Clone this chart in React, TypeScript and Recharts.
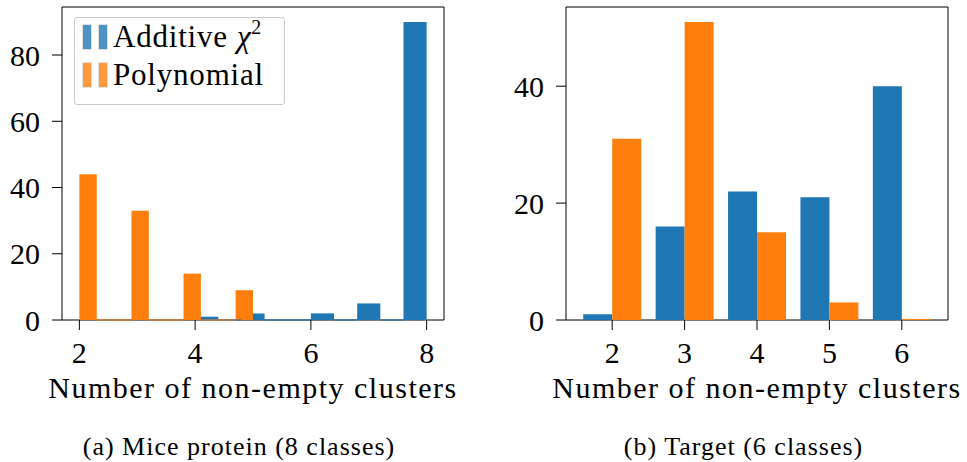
import React from 'react';
import {
  ComposedChart, BarChart, Bar, XAxis, YAxis, CartesianGrid, ReferenceArea, ReferenceLine,
} from 'recharts';

const BLUE = '#1f77b4';
const ORANGE = '#ff7f0e';
const FONT = '"Liberation Serif", "Times New Roman", serif';

// (a) Mice protein : two histograms, 10 bins each, over their own data range
const miceAdditiveRange = [4, 8];
const miceAdditiveCounts = [1, 0, 2, 0, 0, 2, 0, 5, 0, 90];
const micePolyRange = [2, 5];
const micePolyCounts = [44, 0, 0, 33, 0, 0, 14, 0, 0, 9];
const miceXTicks = [2, 4, 6, 8];
const miceYTicks = [0, 20, 40, 60, 80];

// (b) Target : grouped bars
const targetCategories = ['2', '3', '4', '5', '6'];
const targetAdditive = [1, 16, 22, 21, 40];
const targetPoly = [31, 51, 15, 3, 0];
const targetYTicks = [0, 20, 40];

const seriesNames = [
  { name: 'Additive', math: true, color: BLUE, light: '#4c92c3' },
  { name: 'Polynomial', math: false, color: ORANGE, light: '#ff993e' },
];

const toBins = (range: number[], counts: number[]) => {
  const w = (range[1] - range[0]) / counts.length;
  return counts.map((c, i) => ({ x0: range[0] + i * w, x1: range[0] + (i + 1) * w, count: c }));
};

const additiveBins = toBins(miceAdditiveRange, miceAdditiveCounts);
const polyBins = toBins(micePolyRange, micePolyCounts);

const targetData = targetCategories.map((k, i) => ({
  k, additive: targetAdditive[i], poly: targetPoly[i],
}));

const tickStyle = { fill: '#000', fontSize: 30, fontFamily: FONT };

const AxisTitle = ({ viewBox }: any) => (
  <text
    x={viewBox.x + viewBox.width / 2}
    y={viewBox.y + 78}
    textAnchor="middle"
    style={{ fontFamily: FONT, fontSize: 30, letterSpacing: 1.5 }}
    fill="#000"
  >
    Number of non-empty clusters
  </text>
);

// draw the axes box on the plot edges
const frameH = ({ offset }: any) => [offset.top, offset.top + offset.height];
const frameV = ({ offset }: any) => [offset.left, offset.left + offset.width];

const renderBins = (bins: any[], color: string, prefix: string) =>
  bins.map((b, i) =>
    b.count > 0 ? (
      <ReferenceArea key={prefix + i} x1={b.x0} x2={b.x1} y1={0} y2={b.count}
        fill={color} fillOpacity={1} stroke="none" ifOverflow="visible" />
    ) : (
      <ReferenceLine key={prefix + i} segment={[{ x: b.x0, y: 0 }, { x: b.x1, y: 0 }]}
        stroke={color} strokeWidth={1} ifOverflow="visible" />
    )
  );

export default function App() {
  return (
    <div style={{
      position: 'absolute', left: 0, top: 0, width: 967, height: 462, background: '#fff',
      fontFamily: FONT, overflow: 'hidden',
    }}>
      <div style={{ position: 'absolute', left: 0, top: 0 }}>
        <ComposedChart width={470} height={420} margin={{ top: 7, right: 26, bottom: 0, left: 0 }}>
          <CartesianGrid stroke="#000" fill="none"
            horizontalCoordinatesGenerator={frameH} verticalCoordinatesGenerator={frameV} />
          <XAxis type="number" dataKey="x0" domain={[1.7, 8.3]} ticks={miceXTicks} allowDataOverflow
            height={100} axisLine={false} tickSize={10} tickMargin={12}
            tickLine={{ stroke: '#000' }} tick={tickStyle} label={<AxisTitle />} />
          <YAxis type="number" domain={[0, 94.5]} ticks={miceYTicks} allowDataOverflow
            width={62} axisLine={false} tickSize={10} tickMargin={12}
            tickLine={{ stroke: '#000' }} tick={tickStyle} />
          {renderBins(additiveBins, BLUE, 'a')}
          {renderBins(polyBins, ORANGE, 'p')}
        </ComposedChart>
      </div>

      <div style={{
        position: 'absolute', left: 74, top: 17, width: 211, height: 88, boxSizing: 'border-box',
        border: '1px solid #cccccc', borderRadius: 3, background: 'rgba(255,255,255,0.8)',
        fontFamily: FONT,
      }}>
        {seriesNames.map((s, i) => (
          <div key={s.name} style={{ position: 'absolute', left: 0, top: 0 }}>
            <div style={{ position: 'absolute', left: 8, top: 7 + i * 38, width: 8, height: 24,
              background: s.light, boxShadow: '0 0 0 1px rgba(0,0,0,0.12)' }} />
            <div style={{ position: 'absolute', left: 24, top: 7 + i * 38, width: 8, height: 24,
              background: s.light, boxShadow: '0 0 0 1px rgba(0,0,0,0.12)' }} />
            <div style={{ position: 'absolute', left: 38, top: i * 38 + 1, fontSize: 31,
              fontFamily: FONT, whiteSpace: 'nowrap', lineHeight: '36px', letterSpacing: 0.8 }}>
              {s.name}
              {s.math ? <span style={{ fontStyle: 'italic', marginLeft: 9 }}>χ</span> : null}
              {s.math ? <span style={{ fontSize: 20, position: 'relative', top: -13 }}>2</span> : null}
            </div>
          </div>
        ))}
      </div>

      <div style={{ position: 'absolute', left: 470, top: 0 }}>
        <BarChart width={497} height={420} data={targetData} barCategoryGap="10%" barGap={0}
          margin={{ top: 7, right: 19, bottom: 0, left: 0 }}>
          <CartesianGrid stroke="#000" fill="none"
            horizontalCoordinatesGenerator={frameH} verticalCoordinatesGenerator={frameV} />
          <XAxis dataKey="k" padding={{ left: 10, right: 10 }} height={100} axisLine={false}
            tickSize={10} tickMargin={12} tickLine={{ stroke: '#000' }} tick={tickStyle}
            label={<AxisTitle />} />
          <YAxis type="number" domain={[0, 53.55]} ticks={targetYTicks} allowDataOverflow
            width={96} axisLine={false} tickSize={10} tickMargin={12}
            tickLine={{ stroke: '#000' }} tick={tickStyle} />
          <Bar dataKey="additive" fill={BLUE} isAnimationActive={false} />
          <Bar dataKey="poly" fill={ORANGE} minPointSize={1} isAnimationActive={false} />
        </BarChart>
      </div>

      <svg width={967} height={462} style={{ position: 'absolute', left: 0, top: 0, pointerEvents: 'none' }}>
        <text x={239} y={455} textAnchor="middle" style={{ fontFamily: FONT, fontSize: 26, letterSpacing: 1 }}>
          (a) Mice protein (8 classes)
        </text>
        <text x={743.5} y={455} textAnchor="middle" style={{ fontFamily: FONT, fontSize: 26, letterSpacing: 1 }}>
          (b) Target (6 classes)
        </text>
      </svg>
    </div>
  );
}
